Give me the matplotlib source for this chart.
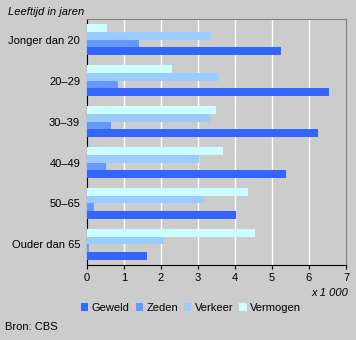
import matplotlib.pyplot as plt
import numpy as np

plt.rcParams['font.family'] = ['Liberation Sans', 'DejaVu Sans']

# data (x 1 000)
groepen = ['Jonger dan 20', '20\u201329', '30\u201339', '40\u201349', '50\u201365', 'Ouder dan 65']
geweld = [5.24, 6.54, 6.24, 5.38, 4.03, 1.62]
zeden = [1.40, 0.84, 0.65, 0.51, 0.19, 0.05]
verkeer = [3.35, 3.57, 3.32, 3.03, 3.16, 2.08]
vermogen = [0.54, 2.30, 3.49, 3.68, 4.35, 4.54]

bg = '#cccccc'
fig = plt.figure(figsize=(3.56, 3.40), dpi=100, facecolor=bg)
ax = fig.add_axes([0.2444, 0.2206, 0.7275, 0.7235], facecolor=bg)

y = np.arange(len(groepen)) + 0.5
h = 0.195
series = [('Geweld', geweld, '#3366ff', 1.5),
          ('Zeden', zeden, '#6699ff', 0.5),
          ('Verkeer', verkeer, '#99ccff', -0.5),
          ('Vermogen', vermogen, '#ccffff', -1.5)]
for naam, vals, kleur, off in series:
    ax.barh(y + off * h, vals, height=h, color=kleur, label=naam, zorder=3)

ax.set_xlim(0, 7)
ax.set_ylim(6, 0)
for xv in range(1, 7):
    ax.axvline(xv, color='white', lw=1.0, zorder=1)

ax.set_yticks(y)
ax.set_yticklabels(groepen, fontsize=8)
ax.tick_params(axis='y', length=0, pad=5)
ax.set_xticks(range(8))
ax.tick_params(axis='x', length=3, direction='out', labelsize=8, pad=3)

for s in ['top', 'right']:
    ax.spines[s].set_color('#808080')
for s in ['left', 'bottom']:
    ax.spines[s].set_color('black')

fig.text(8 / 356, 1 - 12 / 340, 'Leeftijd in jaren', style='italic', fontsize=8, va='center')
fig.text(348 / 356, 1 - 293 / 340, 'x 1 000', style='italic', fontsize=8, va='center', ha='right')
fig.text(5 / 356, 1 - 327 / 340, 'Bron: CBS', fontsize=8, va='center')

leg = fig.legend(loc='center', bbox_to_anchor=(191 / 356, 1 - 308 / 340), ncol=4, frameon=False,
                 fontsize=8, handlelength=0.65, handleheight=0.65, handletextpad=0.3,
                 columnspacing=0.55, borderpad=0)

fig.savefig('out.png', dpi=100, facecolor=bg)
